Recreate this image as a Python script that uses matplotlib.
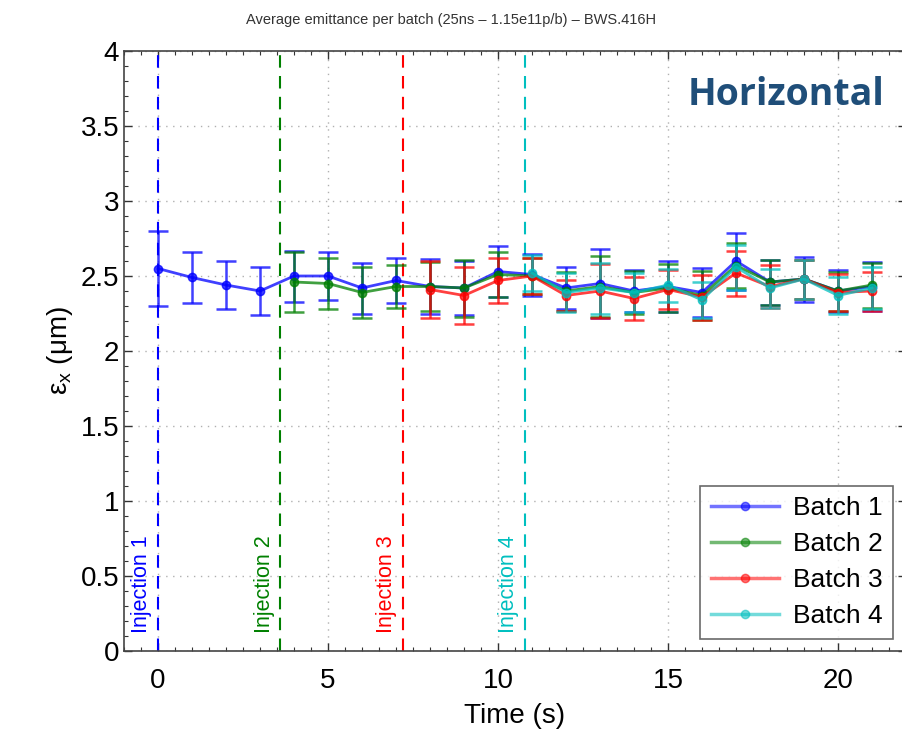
import matplotlib
matplotlib.use("Agg")
import matplotlib.pyplot as plt
from matplotlib.ticker import MultipleLocator
from matplotlib.lines import Line2D
import numpy as np

plt.rcParams['font.family'] = ['Liberation Sans', 'DejaVu Sans']

# ---- data ----
t1 = list(range(0, 22))
b1 = [2.55, 2.49, 2.44, 2.40, 2.50, 2.50, 2.42, 2.47, 2.43, 2.42, 2.53,
      2.51, 2.42, 2.45, 2.40, 2.43, 2.39, 2.60, 2.46, 2.48, 2.40, 2.43]
e1 = [0.25, 0.17, 0.16, 0.16, 0.17, 0.16, 0.17, 0.15, 0.18, 0.18, 0.17,
      0.14, 0.14, 0.23, 0.14, 0.17, 0.16, 0.19, 0.15, 0.15, 0.14, 0.16]

t2 = list(range(4, 22))
b2 = [2.46, 2.45, 2.39, 2.43, 2.43, 2.42, 2.51, 2.50, 2.40, 2.43, 2.39,
      2.42, 2.37, 2.57, 2.46, 2.48, 2.40, 2.44]
e2 = [0.20, 0.17, 0.17, 0.14, 0.16, 0.19, 0.15, 0.12, 0.13, 0.20, 0.14,
      0.16, 0.16, 0.15, 0.15, 0.13, 0.13, 0.15]

t3 = list(range(8, 22))
b3 = [2.41, 2.37, 2.47, 2.50, 2.37, 2.40, 2.35, 2.41, 2.36, 2.52, 2.43,
      2.48, 2.39, 2.40]
e3 = [0.19, 0.19, 0.15, 0.12, 0.10, 0.18, 0.14, 0.13, 0.15, 0.15, 0.14,
      0.13, 0.12, 0.13]

t4 = list(range(11, 22))
b4 = [2.52, 2.39, 2.42, 2.39, 2.44, 2.34, 2.56, 2.42, 2.48, 2.37, 2.42]
e4 = [0.12, 0.13, 0.17, 0.13, 0.11, 0.12, 0.15, 0.13, 0.13, 0.12, 0.14]

labels = ['Batch 1', 'Batch 2', 'Batch 3', 'Batch 4']
injection_times = [0, 3.6, 7.2, 10.8]
injection_labels = ['Injection 1', 'Injection 2', 'Injection 3', 'Injection 4']
colors = ['#0000FF', '#008000', '#FF0000', '#00BFBF']

series = [(t1, b1, e1), (t2, b2, e2), (t3, b3, e3), (t4, b4, e4)]

fig = plt.figure(figsize=(9.03, 7.32), dpi=100)
ax = fig.add_axes([124/903, 1-651/732, (906-124)/903, (651-51)/732])

handles = []
for (t, v, e), c, lab in zip(series, colors, labels):
    ax.errorbar(t, v, yerr=e, color=c, lw=2.0, alpha=0.75, marker='o',
                markersize=6, capsize=7, capthick=1.8, elinewidth=1.8,
                zorder=3)
    handles.append(Line2D([], [], color=c, lw=2.5, alpha=0.55, marker='o',
                          markersize=6, markerfacecolor=c, markeredgecolor=c,
                          label=lab))

for xi, lab, c in zip(injection_times, injection_labels, colors):
    ax.axvline(xi, color=c, ls=(0, (6, 4)), lw=1.5, zorder=2)
    ax.text(xi - 0.17, 0.12, lab, rotation=90, color=c, fontsize=15.5,
            ha='right', va='bottom', zorder=4)

ax.set_xlim(-1, 22)
ax.set_ylim(0, 4)
ax.xaxis.set_major_locator(MultipleLocator(5))
ax.xaxis.set_minor_locator(MultipleLocator(0.5))
ax.yaxis.set_minor_locator(MultipleLocator(0.1))
ax.set_yticks([0, 0.5, 1, 1.5, 2, 2.5, 3, 3.5, 4])
ax.set_yticklabels(['0', '0.5', '1', '1.5', '2', '2.5', '3', '3.5', '4'])
ax.tick_params(which='both', direction='in', top=True, right=True,
               labelsize=20, color='#333333')
ax.tick_params(which='major', length=6, width=1)
ax.tick_params(which='minor', length=3, width=0.8)
ax.tick_params(axis='x', pad=12)
ax.grid(True, which='major', ls=(0, (1, 4)), color='#B0B0B0', lw=1)
for s in ax.spines.values():
    s.set_color('#444444')
    s.set_linewidth(1.2)

ax.set_xlabel('Time (s)', fontsize=20, labelpad=7)
ax.set_ylabel(r'$\mathregular{\epsilon_x}$ ($\mathregular{\mu}$m)', fontsize=20, labelpad=4)
fig.text(0.5, 0.982, 'Average emittance per batch (25ns \u2013 1.15e11p/b) \u2013 BWS.416H',
         ha='center', va='top', fontsize=10.5, color='#333333')

ax.text(0.972, 0.927, 'Horizontal', transform=ax.transAxes,
        ha='right', va='center', fontsize=27, fontweight='bold',
        color='#1F4E79', family=['Open Sans', 'DejaVu Sans'])

leg = ax.legend(handles=handles, loc='lower right', bbox_to_anchor=(0.99, 0.012),
                fontsize=19, frameon=True, fancybox=False, edgecolor='#444444',
                handlelength=2.6, borderpad=0.4, labelspacing=0.45,
                handletextpad=0.5, borderaxespad=0.2)
leg.get_frame().set_linewidth(1.2)

fig.savefig('out.png', dpi=100)
